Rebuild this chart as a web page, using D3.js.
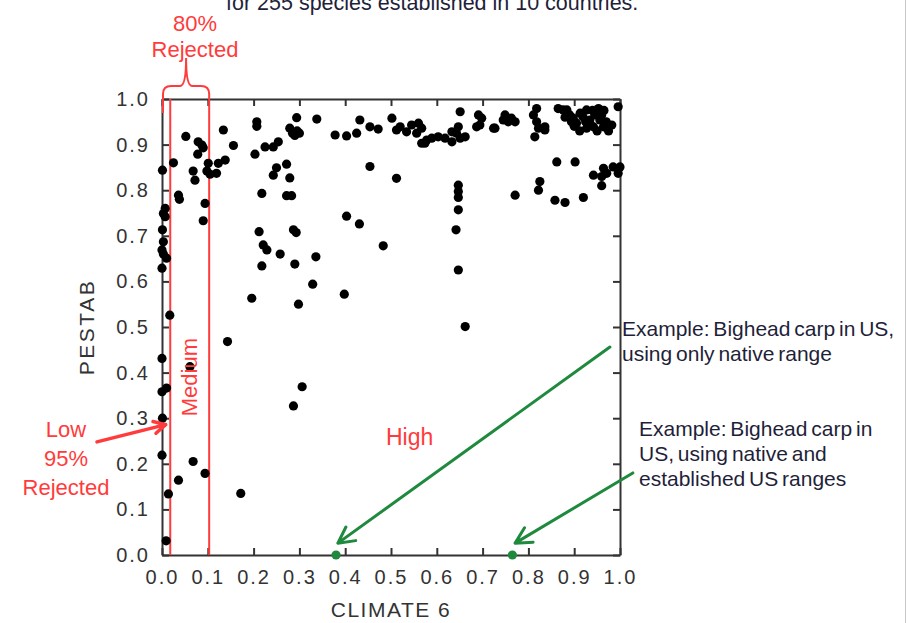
<!DOCTYPE html>
<html>
<head>
<meta charset="utf-8">
<script src="https://cdn.jsdelivr.net/npm/d3@7"></script>
<style>
  body { margin: 0; background: #ffffff; }
  svg { display: block; font-family: "Liberation Sans", Arial, sans-serif; }
</style>
</head>
<body>
<svg id="chart" width="908" height="623"></svg>
<script>
// PESTAB vs CLIMATE 6 scatter, 255 established species

// Species points as [climate6, pestab]
const speciesPoints = [
    // low climate strip
    [0.001, 0.844], [0.025, 0.860], [0.007, 0.760], [0.003, 0.749], [0.007, 0.742],
    [0.001, 0.713], [0.003, 0.687], [0.000, 0.669], [0.003, 0.660], [0.010, 0.651],
    [0.000, 0.629], [0.036, 0.789], [0.038, 0.780], [0.017, 0.526], [0.000, 0.431],
    [0.000, 0.358], [0.010, 0.366], [0.001, 0.300], [0.000, 0.219], [0.014, 0.134],
    [0.009, 0.031],
    // medium band
    [0.052, 0.918], [0.079, 0.906], [0.087, 0.899], [0.090, 0.893], [0.078, 0.879],
    [0.068, 0.842], [0.072, 0.822], [0.101, 0.859], [0.098, 0.842], [0.119, 0.837],
    [0.138, 0.866], [0.123, 0.859], [0.094, 0.771], [0.090, 0.733], [0.134, 0.932],
    [0.156, 0.898], [0.143, 0.468], [0.061, 0.413], [0.068, 0.205], [0.094, 0.179],
    [0.036, 0.164], [0.105, 0.835],
    // high, left half
    [0.172, 0.135], [0.207, 0.950], [0.207, 0.940], [0.294, 0.959], [0.338, 0.956],
    [0.279, 0.936], [0.285, 0.925], [0.295, 0.930], [0.290, 0.920], [0.300, 0.925],
    [0.203, 0.879], [0.225, 0.895], [0.243, 0.895], [0.254, 0.906], [0.272, 0.857],
    [0.250, 0.849], [0.243, 0.833], [0.279, 0.827], [0.218, 0.793], [0.272, 0.788],
    [0.283, 0.788], [0.378, 0.921], [0.403, 0.919], [0.425, 0.925], [0.432, 0.954],
    [0.454, 0.939], [0.472, 0.934], [0.502, 0.958], [0.512, 0.932], [0.454, 0.852],
    [0.512, 0.826], [0.403, 0.743], [0.431, 0.726], [0.483, 0.678], [0.212, 0.709],
    [0.287, 0.713], [0.293, 0.707], [0.221, 0.680], [0.229, 0.669], [0.258, 0.660],
    [0.218, 0.634], [0.290, 0.638], [0.336, 0.654], [0.329, 0.594], [0.196, 0.563],
    [0.298, 0.550], [0.398, 0.572], [0.306, 0.369], [0.287, 0.327],
    // high, top middle
    [0.520, 0.939], [0.534, 0.928], [0.545, 0.943], [0.560, 0.947], [0.556, 0.925],
    [0.567, 0.903], [0.578, 0.910], [0.589, 0.914], [0.603, 0.917], [0.618, 0.914],
    [0.633, 0.928], [0.633, 0.906], [0.643, 0.925], [0.647, 0.939], [0.651, 0.972],
    [0.651, 0.914], [0.662, 0.917], [0.574, 0.903], [0.567, 0.936],
    [0.691, 0.965], [0.698, 0.958], [0.687, 0.939], [0.694, 0.943], [0.724, 0.936],
    [0.727, 0.936], [0.749, 0.965], [0.763, 0.958], [0.771, 0.950], [0.745, 0.954],
    [0.756, 0.950], [0.818, 0.979], [0.811, 0.965], [0.818, 0.950], [0.822, 0.936],
    [0.814, 0.917], [0.836, 0.939], [0.836, 0.932],
    // high, top right cluster
    [0.865, 0.979], [0.876, 0.976], [0.884, 0.976], [0.898, 0.958], [0.913, 0.969],
    [0.905, 0.947], [0.927, 0.976], [0.934, 0.954], [0.942, 0.939], [0.953, 0.979],
    [0.956, 0.954], [0.964, 0.939], [0.927, 0.936], [0.982, 0.943], [0.996, 0.983],
    [0.894, 0.950], [0.919, 0.961], [0.945, 0.965], [0.900, 0.940], [0.912, 0.930],
    [0.935, 0.945], [0.950, 0.930], [0.960, 0.965], [0.970, 0.950], [0.975, 0.930],
    [0.890, 0.965], [0.940, 0.975], [0.965, 0.975], [0.925, 0.950], [0.880, 0.960],
    // high, right lower cluster
    [0.862, 0.862], [0.902, 0.862], [0.942, 0.833], [0.960, 0.830], [0.964, 0.848],
    [0.971, 0.837], [0.985, 0.851], [1.000, 0.851], [0.996, 0.837], [0.960, 0.810],
    [0.825, 0.819], [0.822, 0.800], [0.771, 0.789], [0.858, 0.778], [0.880, 0.773],
    [0.920, 0.784],
    // column near 0.65
    [0.647, 0.811], [0.647, 0.797], [0.647, 0.784], [0.647, 0.757], [0.642, 0.713],
    [0.647, 0.625], [0.662, 0.501]
];

// Bighead carp examples (green points on the x axis)
const exampleNames = ["native range only", "native and established US ranges"];
const examplePoints = [[0.38, 0.0], [0.765, 0.0]];

// Tick values for both axes
const tickValues = [0, 0.1, 0.2, 0.3, 0.4, 0.5, 0.6, 0.7, 0.8, 0.9, 1.0];

// Climate cut-offs (low | medium | high)
const climateCutoffs = [0.018, 0.103];

const svg = d3.select("#chart");
const xScale = d3.scaleLinear().domain([0, 1]).range([162, 620]);
const yScale = d3.scaleLinear().domain([0, 1]).range([555, 99]);

const axisColor = "#333333";
const redColor = "#ff3b3b";
const greenColor = "#1f8a3e";
const textColor = "#1f1f3a";

// Axes with inward ticks on all four sides
function styleAxis(g) {
    g.select(".domain").attr("stroke", axisColor).attr("stroke-width", 2);
    g.selectAll(".tick line").attr("stroke", axisColor).attr("stroke-width", 2);
    g.selectAll(".tick text")
        .attr("fill", axisColor)
        .attr("font-size", 20)
        .style("letter-spacing", "2px");
}

svg.append("g")
    .attr("transform", `translate(0, ${yScale(0)})`)
    .call(d3.axisBottom(xScale).tickValues(tickValues).tickSize(-7).tickSizeOuter(0)
        .tickPadding(15).tickFormat(d3.format(".1f")))
    .call(styleAxis)
    .attr("font-family", null);

svg.append("g")
    .attr("transform", `translate(${xScale(0)}, 0)`)
    .call(d3.axisLeft(yScale).tickValues(tickValues).tickSize(-7).tickSizeOuter(0)
        .tickPadding(12).tickFormat(d3.format(".1f")))
    .call(styleAxis)
    .attr("font-family", null);

svg.append("g")
    .attr("transform", `translate(0, ${yScale(1)})`)
    .call(d3.axisTop(xScale).tickValues(tickValues).tickSize(-7).tickSizeOuter(0).tickFormat(""))
    .call(styleAxis);

svg.append("g")
    .attr("transform", `translate(${xScale(1)}, 0)`)
    .call(d3.axisRight(yScale).tickValues(tickValues).tickSize(-7).tickSizeOuter(0).tickFormat(""))
    .call(styleAxis);

// Axis titles
svg.append("text")
    .attr("x", (xScale(0) + xScale(1)) / 2)
    .attr("y", 617)
    .attr("text-anchor", "middle")
    .attr("font-size", 21)
    .attr("fill", axisColor)
    .style("letter-spacing", "1.5px")
    .text("CLIMATE 6");

svg.append("text")
    .attr("transform", `translate(94, ${(yScale(0) + yScale(1)) / 2}) rotate(-90)`)
    .attr("text-anchor", "middle")
    .attr("font-size", 21)
    .attr("fill", axisColor)
    .style("letter-spacing", "2.5px")
    .text("PESTAB");

// Cut-off lines
svg.selectAll(".cutoff")
    .data(climateCutoffs)
    .enter()
    .append("line")
    .attr("class", "cutoff")
    .attr("x1", d => xScale(d))
    .attr("x2", d => xScale(d))
    .attr("y1", yScale(0))
    .attr("y2", yScale(1))
    .attr("stroke", redColor)
    .attr("stroke-width", 2);

// Brace over the medium band
const braceL = xScale(0) + 1;
const braceR = xScale(climateCutoffs[1]);
const braceMid = (braceL + braceR) / 2;
const braceY = 86;
svg.append("path")
    .attr("d", `M ${braceL} ${yScale(1) + 14} L ${braceL} ${braceY + 8} Q ${braceL} ${braceY}, ${braceL + 8} ${braceY}
        L ${braceMid - 6} ${braceY} Q ${braceMid} ${braceY}, ${braceMid} ${braceY - 28}
        Q ${braceMid} ${braceY}, ${braceMid + 6} ${braceY} L ${braceR - 8} ${braceY}
        Q ${braceR} ${braceY}, ${braceR} ${braceY + 8} L ${braceR} ${yScale(1)}`)
    .attr("fill", "none")
    .attr("stroke", redColor)
    .attr("stroke-width", 2);

// Species points
svg.selectAll(".species")
    .data(speciesPoints)
    .enter()
    .append("circle")
    .attr("class", "species")
    .attr("cx", d => xScale(d[0]))
    .attr("cy", d => yScale(d[1]))
    .attr("r", 4.6)
    .attr("fill", "#000000");

svg.selectAll(".example")
    .data(examplePoints)
    .enter()
    .append("circle")
    .attr("class", "example")
    .attr("data-name", (d, i) => exampleNames[i])
    .attr("cx", d => xScale(d[0]))
    .attr("cy", d => yScale(d[1]))
    .attr("r", 4.6)
    .attr("fill", greenColor);

// Arrow with an open chevron head
function drawArrow(from, to, color, width, headLen) {
    const x1 = xScale(from[0]), y1 = yScale(from[1]);
    const x2 = xScale(to[0]), y2 = yScale(to[1]);
    const angle = Math.atan2(y2 - y1, x2 - x1);
    const spread = Math.PI / 6.5;
    const hx1 = x2 - headLen * Math.cos(angle - spread);
    const hy1 = y2 - headLen * Math.sin(angle - spread);
    const hx2 = x2 - headLen * Math.cos(angle + spread);
    const hy2 = y2 - headLen * Math.sin(angle + spread);
    svg.append("path")
        .attr("d", `M ${x1} ${y1} L ${x2} ${y2} M ${hx1} ${hy1} L ${x2} ${y2} L ${hx2} ${hy2}`)
        .attr("fill", "none")
        .attr("stroke", color)
        .attr("stroke-width", width)
        .attr("stroke-linecap", "round")
        .attr("stroke-linejoin", "round");
}

drawArrow([0.978, 0.456], [0.384, 0.026], greenColor, 3, 18);
drawArrow([1.028, 0.180], [0.771, 0.026], greenColor, 3, 18);
drawArrow([-0.142, 0.248], [0.008, 0.286], redColor, 3.5, 13);

// Text labels
function addLines(lines, x, y, lineHeight, color, size, anchor) {
    const t = svg.append("text")
        .attr("x", x)
        .attr("y", y)
        .attr("font-size", size)
        .attr("fill", color)
        .attr("text-anchor", anchor);
    lines.forEach((line, i) => {
        t.append("tspan")
            .attr("x", x)
            .attr("dy", i === 0 ? 0 : lineHeight)
            .text(line);
    });
    return t;
}

addLines(["for 255 species established in 10 countries."], 226, 10, 0, textColor, 21.5, "start");
addLines(["80%", "Rejected"], 195, 31, 26, redColor, 22, "middle");
addLines(["Low", "95%", "Rejected"], 66, 437, 29, redColor, 22, "middle");
addLines(["High"], 386, 445, 0, redColor, 23, "start");

svg.append("text")
    .attr("transform", `translate(197, ${yScale(0.39)}) rotate(-90)`)
    .attr("text-anchor", "middle")
    .attr("font-size", 22)
    .attr("fill", redColor)
    .text("Medium");

addLines(["Example: Bighead carp in US,", "using only native range"], 622, 336, 25, textColor, 21, "start")
    .style("word-spacing", "-2px");
addLines(["Example: Bighead carp in", "US, using native and", "established US ranges"], 639, 436, 25, textColor, 21, "start")
    .style("word-spacing", "-2px");

// Slide edge on the right
svg.append("line")
    .attr("x1", 905.5).attr("x2", 905.5)
    .attr("y1", 0).attr("y2", 623)
    .attr("stroke", "#c8c8c8")
    .attr("stroke-width", 1);
</script>
</body>
</html>
